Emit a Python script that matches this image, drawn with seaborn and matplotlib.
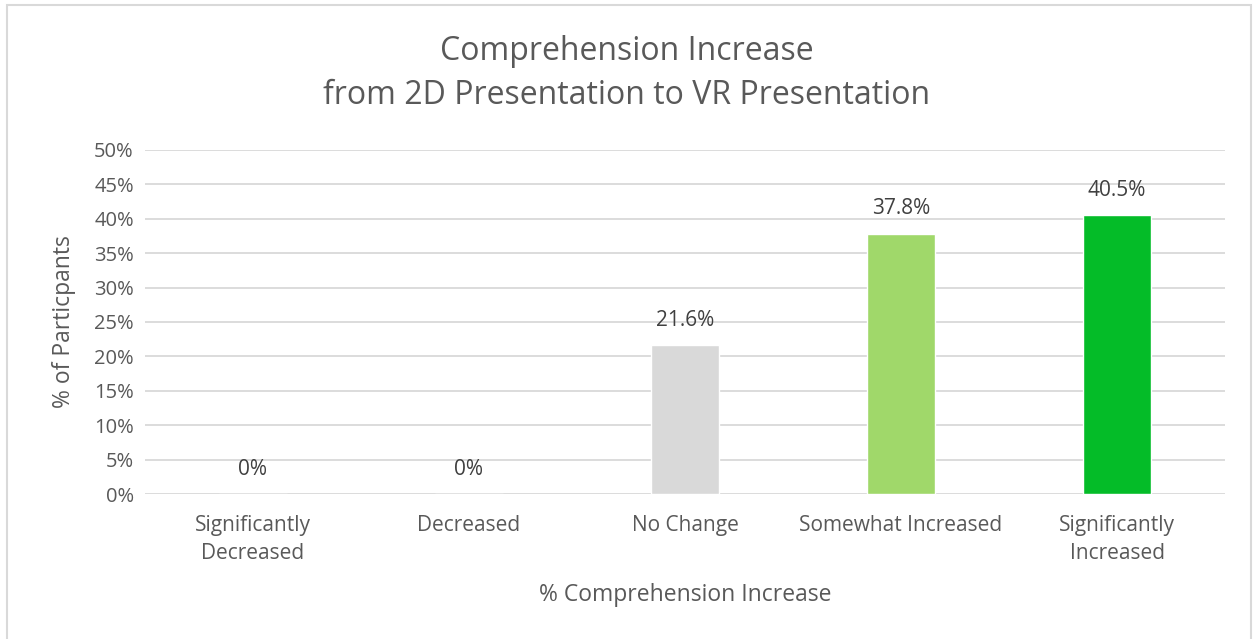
import pandas as pd
import matplotlib.pyplot as plt
import matplotlib.ticker as ticker
import seaborn as sns
from matplotlib.patches import Rectangle

# Chart data
categories = ["Significantly\nDecreased", "Decreased", "No Change",
              "Somewhat Increased", "Significantly\nIncreased"]
percent = [0.0, 0.0, 21.6, 37.8, 40.5]
bar_labels = ["0%", "0%", "21.6%", "37.8%", "40.5%"]
colors = ["#D9D9D9", "#D9D9D9", "#D9D9D9", "#A0D86A", "#04BC28"]

df = pd.DataFrame({"Category": categories, "Percent": percent})

sns.set_style("white")
plt.rcParams['font.family'] = ['Open Sans', 'DejaVu Sans']
text_color = "#595959"

fig = plt.figure(figsize=(12.53, 6.39), dpi=100)
ax = fig.add_axes([0.1157, 0.2269, 0.862, 0.5384])

sns.barplot(data=df, x="Category", y="Percent", hue="Category",
            palette=colors, legend=False, width=0.315, saturation=1, ax=ax)

ax.set_ylim(0, 50)
ax.set_xlim(-0.5, 4.5)
ax.yaxis.set_major_locator(ticker.MultipleLocator(5))
ax.yaxis.set_major_formatter(ticker.FuncFormatter(lambda v, p: f"{v:.0f}%"))
ax.grid(axis='y', color="#D9D9D9", linewidth=1.3)
ax.set_axisbelow(True)
for s in ax.spines.values():
    s.set_visible(False)
ax.tick_params(axis='y', length=0, labelsize=14.5, colors=text_color, pad=8)
ax.tick_params(axis='x', length=0, labelsize=15, colors=text_color, pad=15)
for t in ax.get_xticklabels():
    t.set_linespacing(1.45)

# Bar labels
for i, val in enumerate(percent):
    ax.annotate(bar_labels[i], (i, val), xytext=(0, 18), textcoords='offset points',
                ha='center', va='center', fontsize=15, color="#404040")

ax.set_xlabel("% Comprehension Increase", fontsize=16.5, color=text_color, labelpad=14)
ax.set_ylabel("% of Particpants", fontsize=16.5, color=text_color, labelpad=13)
fig.text(0.5, 0.885, "Comprehension Increase\nfrom 2D Presentation to VR Presentation",
         ha='center', va='center', fontsize=23, color=text_color, linespacing=1.47)

# Outer chart border
fig.patches.append(Rectangle((0.0056, -0.02), 0.993, 1.012, transform=fig.transFigure,
                             fill=False, edgecolor="#D9D9D9", linewidth=1.5))

plt.savefig("out.png", dpi=100)
